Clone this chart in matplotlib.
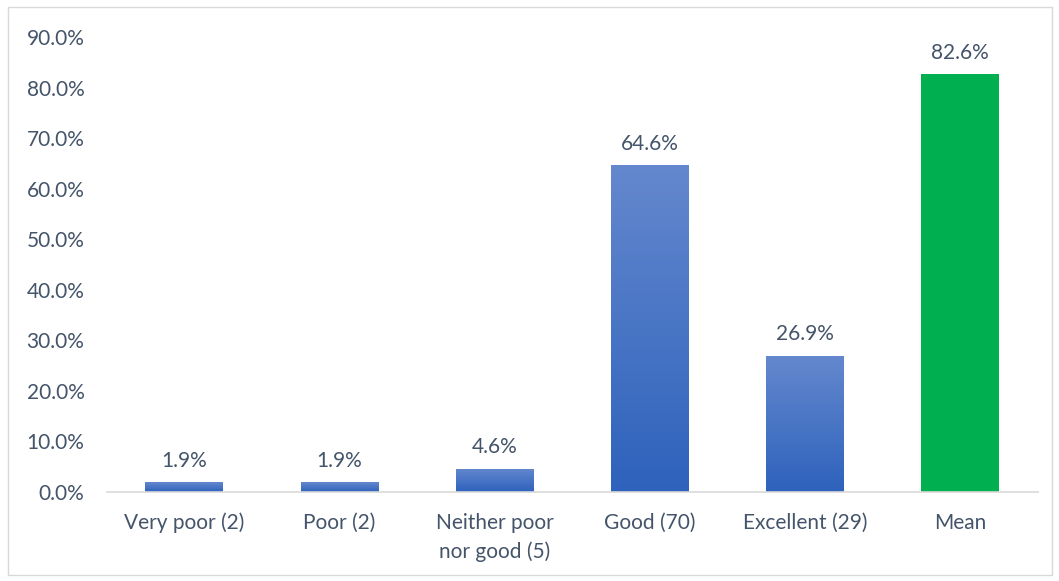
import matplotlib.pyplot as plt
import numpy as np
from matplotlib.colors import LinearSegmentedColormap
from matplotlib.patches import Rectangle

categories = ["Very poor (2)", "Poor (2)", "Neither poor\nnor good (5)", "Good (70)", "Excellent (29)", "Mean"]
values = [1.9, 1.9, 4.6, 64.6, 26.9, 82.6]
yticks = [0, 10, 20, 30, 40, 50, 60, 70, 80, 90]

text_color = "#44546A"
blue_grad = LinearSegmentedColormap.from_list("bar", ["#2E62BC", "#6488CE"])
green = "#00B050"

plt.rcParams["font.family"] = ["Lato", "DejaVu Sans"]

fig = plt.figure(figsize=(10.59, 5.81), dpi=100)
ax = fig.add_axes([0.1007, 0.1532, 0.8793, 0.7831])

x = np.arange(len(categories))
bars = ax.bar(x, values, width=0.5, color="none", zorder=2)
grad = np.linspace(0, 1, 256).reshape(-1, 1)
for i, (bar, v) in enumerate(zip(bars, values)):
    if categories[i] == "Mean":
        bar.set_facecolor(green)
    else:
        # vertical gradient, clipped to the bar
        bx = bar.get_x()
        im = ax.imshow(grad, cmap=blue_grad, origin="lower", aspect="auto",
                       extent=[bx, bx + bar.get_width(), 0, v], zorder=2)
        im.set_clip_path(bar)
    ax.text(bar.get_x() + bar.get_width() / 2, v + 2.3, f"{v:.1f}%", ha="center", va="bottom",
            fontsize=15, color=text_color)

ax.set_xlim(-0.5, len(categories) - 0.5)
ax.set_ylim(0, 90)
ax.set_yticks(yticks)
ax.set_yticklabels([f"{t:.1f}%" for t in yticks], fontsize=15, color=text_color)
ax.set_xticks(x)
ax.set_xticklabels(categories, fontsize=15, color=text_color, linespacing=1.5, va="top")
ax.tick_params(axis="both", length=0)
ax.tick_params(axis="x", pad=15)
ax.tick_params(axis="y", pad=16)
for s in ["top", "right", "left"]:
    ax.spines[s].set_visible(False)
ax.spines["bottom"].set_color("#D9D9D9")
ax.spines["bottom"].set_linewidth(1.2)

fig.patches.append(Rectangle((8 / 1059, 6 / 581), 1044 / 1059, 568 / 581, transform=fig.transFigure,
                             fill=False, edgecolor="#D9D9D9", linewidth=1))

fig.savefig("out.png", dpi=100)
